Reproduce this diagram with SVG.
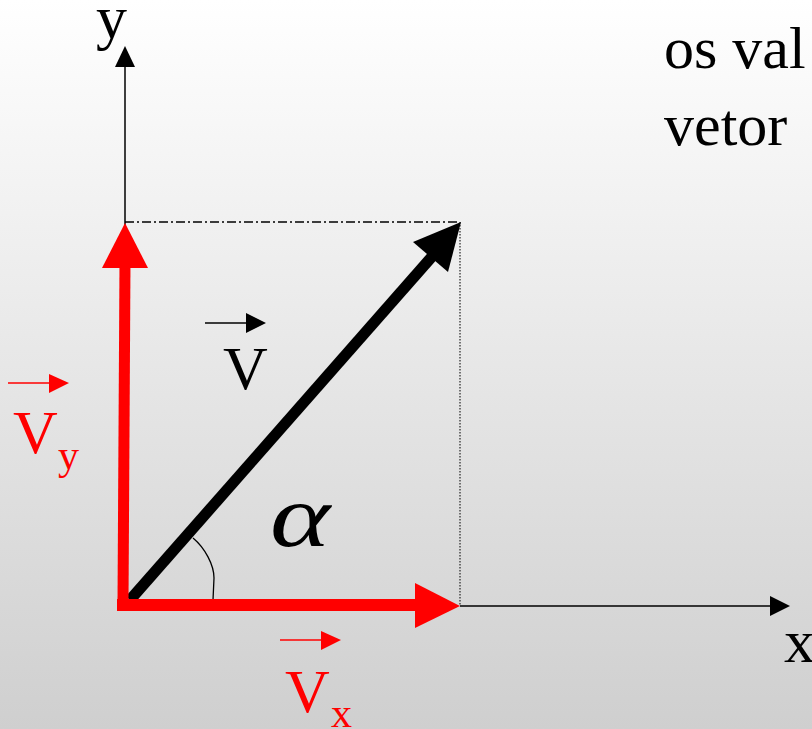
<svg xmlns="http://www.w3.org/2000/svg" width="812" height="729" viewBox="0 0 812 729">
<defs>
<linearGradient id="bg" x1="0" y1="0" x2="0" y2="1">
<stop offset="0" stop-color="#ffffff"/>
<stop offset="1" stop-color="#cfcfcf"/>
</linearGradient>
<style>
.t{font-family:"Liberation Serif","Times New Roman",serif;}
.blk{fill:#000;}
.red{fill:#ff0000;}
.ax{stroke:#000;stroke-width:1.5;fill:none;}
</style>
</defs>
<rect width="812" height="729" fill="url(#bg)"/>
<g id="connectors">
<line class="ax" x1="125" y1="605" x2="125" y2="66"/>
<polygon class="blk" points="125,46 115,67 135,67"/>
<line class="ax" x1="460" y1="606" x2="771" y2="606"/>
<polygon class="blk" points="790,606 770,596 770,616"/>
<line x1="125" y1="222" x2="460" y2="222" stroke="#000" stroke-width="1.6" stroke-dasharray="9 3 2 3"/>
<line x1="460" y1="222" x2="460" y2="605" stroke="#333" stroke-width="1.3" stroke-dasharray="1.5 1.5"/>
<path d="M193,538 C205,548 214,565 214,578 L213,600" stroke="#000" stroke-width="1.3" fill="none"/>
</g>
<g id="vector-v">
<line x1="130" y1="600" x2="436" y2="252" stroke="#000" stroke-width="11"/>
<polygon class="blk" points="461,222 413,242 448,272"/>
</g>
<g id="vector-vy">
<line x1="123" y1="603" x2="125" y2="262" stroke="#ff0000" stroke-width="11"/>
<polygon class="red" points="125,223 102,268 148,268"/>
</g>
<g id="vector-vx">
<line x1="117" y1="605" x2="420" y2="605" stroke="#ff0000" stroke-width="12"/>
<polygon class="red" points="460,606 415,583 415,628"/>
</g>
<g id="labels">
<text class="t" x="96" y="38" font-size="62">y</text>
<text class="t" x="784" y="662" font-size="62">x</text>
<text class="t" x="664" y="68" font-size="60">os val</text>
<text class="t" x="664" y="145" font-size="60">vetor</text>
<text class="t" transform="translate(270,546) scale(1.55,1.2)" x="0" y="0" font-size="74" font-style="italic">α</text>
<line x1="205" y1="323" x2="248" y2="323" stroke="#000" stroke-width="1.5"/>
<polygon class="blk" points="266,323 246,313 246,333"/>
<text class="t" x="223" y="389" font-size="62">V</text>
<line x1="8" y1="383" x2="50" y2="383" stroke="#ff0000" stroke-width="1.5"/>
<polygon class="red" points="69,383 49,374 49,393"/>
<text class="t red" x="13" y="453" font-size="62">V</text>
<text class="t red" x="58" y="469" font-size="42">y</text>
<line x1="280" y1="640" x2="323" y2="640" stroke="#ff0000" stroke-width="1.5"/>
<polygon class="red" points="341,640 321,631 321,650"/>
<text class="t red" x="285" y="712" font-size="62">V</text>
<text class="t red" x="331" y="727" font-size="42">x</text>
</g>
</svg>
